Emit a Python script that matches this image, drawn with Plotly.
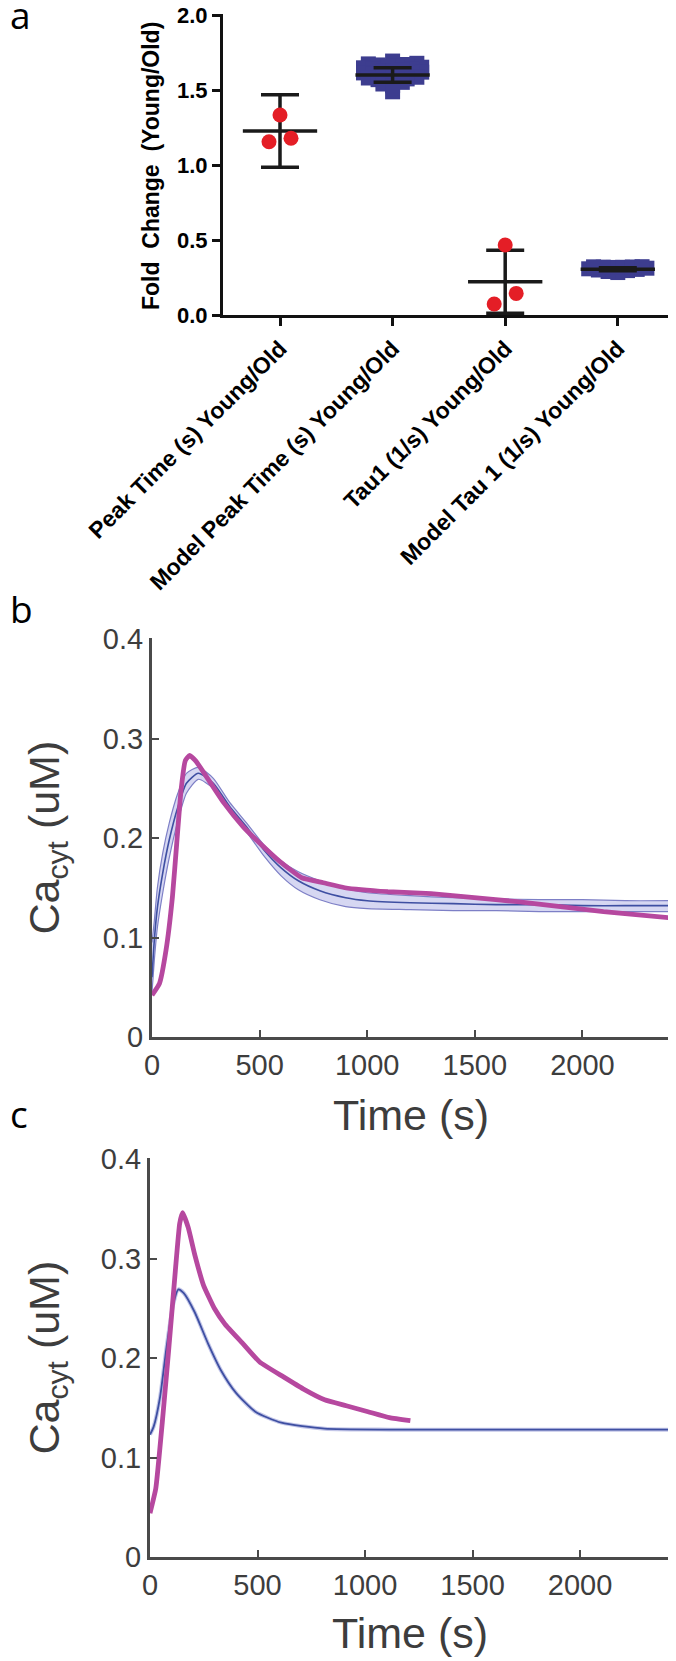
import numpy as np
import plotly.graph_objects as go

# page is 676x1661; the browser's default body margin puts the figure at (8, 8)
PAGE_W, PAGE_H, OFF = 676, 1661, 8
WF, HF = PAGE_W - OFF, PAGE_H - OFF

# ---------------- data: panel a ----------------
categories = ["Peak Time (s) Young/Old", "Model Peak Time (s) Young/Old",
              "Tau1 (1/s) Young/Old", "Model Tau 1 (1/s) Young/Old"]
peak_time_exp = [1.333, 1.155, 1.178]
peak_time_model = [1.693,
                   1.678, 1.674, 1.670, 1.667, 1.662, 1.657,
                   1.652, 1.648, 1.643, 1.639, 1.634, 1.629, 1.624,
                   1.619, 1.614, 1.610, 1.605, 1.600, 1.595, 1.591,
                   1.585, 1.580, 1.574, 1.569, 1.564, 1.558,
                   1.551, 1.540, 1.528,
                   1.488]
tau1_exp = [0.467, 0.144, 0.073]
tau1_model = [0.283, 0.290, 0.296, 0.300, 0.304, 0.308, 0.312,
              0.317, 0.318, 0.319, 0.320, 0.321, 0.322]
group_means = [1.227, 1.600, 0.222, 0.305]
group_err = [0.242, 0.049, 0.210, 0.010]
a_yticks = [0.0, 0.5, 1.0, 1.5, 2.0]

# ---------------- data: panel b ----------------
b_model_t = [0, 10, 25, 50, 80, 120, 160, 215, 285, 360, 440, 520, 600, 680,
             780, 900, 1000, 1200, 1400, 1600, 1800, 2000, 2200, 2400]
b_model_mean = [0.060, 0.095, 0.130, 0.165, 0.198, 0.231, 0.255, 0.265, 0.255, 0.232,
                0.211, 0.188, 0.170, 0.157, 0.147, 0.140, 0.137, 0.135, 0.134, 0.133,
                0.133, 0.132, 0.132, 0.132]
b_model_upper = [0.095, 0.115, 0.150, 0.185, 0.215, 0.245, 0.265, 0.271, 0.260, 0.236,
                 0.215, 0.193, 0.177, 0.166, 0.157, 0.149, 0.145, 0.142, 0.140, 0.139,
                 0.138, 0.138, 0.137, 0.137]
b_model_lower = [0.045, 0.075, 0.110, 0.145, 0.180, 0.217, 0.245, 0.259, 0.250, 0.228,
                 0.206, 0.182, 0.162, 0.148, 0.138, 0.131, 0.129, 0.128, 0.127, 0.127,
                 0.126, 0.126, 0.126, 0.126]
b_exp_t = [0, 35, 65, 95, 115, 135, 155, 175, 205, 255, 335, 425, 495, 596, 696, 796,
           896, 1096, 1297, 1497, 1697, 1898, 2098, 2400]
b_exp_v = [0.042, 0.054, 0.087, 0.141, 0.195, 0.248, 0.278, 0.283, 0.277, 0.261, 0.235,
           0.211, 0.196, 0.176, 0.160, 0.155, 0.150, 0.146, 0.144, 0.140, 0.136, 0.131,
           0.126, 0.120]

# ---------------- data: panel c ----------------
c_model_t = [0, 17, 47, 77, 108, 132, 158, 208, 269, 329, 400, 490, 611, 812, 1114,
             1500, 2000, 2414]
c_model_v = [0.123, 0.131, 0.161, 0.211, 0.254, 0.269, 0.265, 0.246, 0.215, 0.188,
             0.165, 0.146, 0.135, 0.129, 0.128, 0.128, 0.128, 0.128]
c_exp_t = [0, 27, 57, 88, 118, 138, 152, 178, 208, 249, 299, 349, 430, 510, 621, 712,
           812, 913, 1014, 1114, 1211]
c_exp_v = [0.044, 0.069, 0.135, 0.211, 0.288, 0.335, 0.346, 0.331, 0.304, 0.273, 0.250,
           0.234, 0.215, 0.196, 0.181, 0.169, 0.158, 0.152, 0.146, 0.140, 0.137]

time_ticks = [0, 500, 1000, 1500, 2000]
ca_ticks = [0, 0.1, 0.2, 0.3, 0.4]
ca_ticktext = ["0", "0.1", "0.2", "0.3", "0.4"]

# ---------------- layout geometry (page pixels) ----------------
A_L, A_R, A_T, A_B = 223, 676, 14, 315
A_CAT0, A_CATSTEP = 280, 112.6
A_PXU = 150.0  # px per unit on y
B_L, B_R, B_T, B_B = 152, 670, 638, 1037
C_L, C_R, C_T, C_B = 150, 669, 1158, 1557


def px(xp):
    return (xp - OFF) / WF


def py(yp):
    return 1 - (yp - OFF) / HF


def xd(l, r):
    return [px(l), min(1.0, px(r))]


def yd(t, b):
    return [py(b), py(t)]


def swarm(values, row_px, step_px):
    v = np.asarray(values, float)
    order = np.argsort(v, kind="stable")
    bins = np.floor((v - v.min()) * A_PXU / row_px + 1e-9).astype(int)
    offs = np.zeros(len(v))
    for b in np.unique(bins):
        idx = [i for i in order if bins[i] == b]
        n = len(idx)
        slots = sorted([(k - (n - 1) / 2) * step_px for k in range(n)], key=lambda s: (abs(s), s))
        for i, s in zip(idx, slots):
            offs[i] = s / A_CATSTEP
    return offs


RED = "#e41e26"
NAVY = "#3d3d8f"
MAG = "#b6489f"
BLUE = "#3e4fa2"
AXC = "#4a4a4a"
TXC = "#3d3d3d"

fig = go.Figure()

# panel a: model squares
for ci, vals in [(1, peak_time_model), (3, tau1_model)]:
    fig.add_trace(go.Scatter(x=ci + swarm(vals, 5, 9.7), y=vals, mode="markers",
                             marker=dict(symbol="square", size=15, color=NAVY, line=dict(width=0)),
                             xaxis="x", yaxis="y", showlegend=False, hoverinfo="skip"))

# mean lines
mx, my = [], []
for i, m in enumerate(group_means):
    mx += [i - 0.33, i + 0.33, None]
    my += [m, m, None]
fig.add_trace(go.Scatter(x=mx, y=my, mode="lines", line=dict(color="#1a1a1a", width=3.5),
                         xaxis="x", yaxis="y", showlegend=False, hoverinfo="skip"))
# error bars
fig.add_trace(go.Scatter(x=list(range(4)), y=group_means, mode="markers",
                         marker=dict(size=1, opacity=0),
                         error_y=dict(type="data", array=group_err, symmetric=True,
                                      width=19, thickness=3.5, color="#1a1a1a"),
                         xaxis="x", yaxis="y", showlegend=False, hoverinfo="skip"))
# experimental red dots
for ci, vals in [(0, peak_time_exp), (2, tau1_exp)]:
    fig.add_trace(go.Scatter(x=ci + swarm(vals, 15, 22), y=vals, mode="markers",
                             marker=dict(symbol="circle", size=15, color=RED, line=dict(width=0)),
                             xaxis="x", yaxis="y", showlegend=False, hoverinfo="skip"))

# panel b
fig.add_trace(go.Scatter(x=b_model_t, y=b_model_lower, mode="lines",
                         line=dict(color="#7d7fc6", width=1.2, shape="spline", smoothing=0.6),
                         xaxis="x2", yaxis="y2", showlegend=False, hoverinfo="skip"))
fig.add_trace(go.Scatter(x=b_model_t, y=b_model_upper, mode="lines", fill="tonexty",
                         fillcolor="rgba(200,202,238,0.75)",
                         line=dict(color="#7d7fc6", width=1.2, shape="spline", smoothing=0.6),
                         xaxis="x2", yaxis="y2", showlegend=False, hoverinfo="skip"))
fig.add_trace(go.Scatter(x=b_model_t, y=b_model_mean, mode="lines",
                         line=dict(color=BLUE, width=1.6, shape="spline", smoothing=0.6),
                         xaxis="x2", yaxis="y2", showlegend=False, hoverinfo="skip"))
fig.add_trace(go.Scatter(x=b_exp_t, y=b_exp_v, mode="lines",
                         line=dict(color=MAG, width=4.8, shape="spline", smoothing=0.4),
                         xaxis="x2", yaxis="y2", showlegend=False, hoverinfo="skip"))

# panel c
fig.add_trace(go.Scatter(x=c_model_t, y=c_model_v, mode="lines",
                         line=dict(color="#c3c6e8", width=4.0, shape="spline", smoothing=0.6),
                         xaxis="x3", yaxis="y3", showlegend=False, hoverinfo="skip"))
fig.add_trace(go.Scatter(x=c_model_t, y=c_model_v, mode="lines",
                         line=dict(color=BLUE, width=1.8, shape="spline", smoothing=0.6),
                         xaxis="x3", yaxis="y3", showlegend=False, hoverinfo="skip"))
fig.add_trace(go.Scatter(x=c_exp_t, y=c_exp_v, mode="lines",
                         line=dict(color=MAG, width=4.8, shape="spline", smoothing=0.4),
                         xaxis="x3", yaxis="y3", showlegend=False, hoverinfo="skip"))

tickfont_a = dict(family="Liberation Sans, Arial, sans-serif", size=23, color="black", weight="bold")
tickfont_ay = dict(family="Liberation Sans, Arial, sans-serif", size=22, color="black", weight="bold")
tickfont_bc = dict(family="Liberation Sans, Arial, sans-serif", size=29, color=TXC)

common_bc = dict(showgrid=False, zeroline=False, showline=True, linecolor=AXC, linewidth=3,
                 ticks="inside", ticklen=7, tickwidth=2, tickcolor=AXC, tickfont=tickfont_bc,
                 automargin=False, ticklabeloverflow="allow")

fig.update_layout(
    template="none",
    width=WF, height=HF, margin=dict(l=0, r=0, t=0, b=0, autoexpand=False),
    paper_bgcolor="white", plot_bgcolor="white", showlegend=False,
    xaxis=dict(domain=xd(A_L, A_R), anchor="y", automargin=False, ticklabeloverflow="allow",
               range=[(A_L - A_CAT0) / A_CATSTEP, (A_R - A_CAT0) / A_CATSTEP],
               tickmode="array", tickvals=list(range(4)), ticktext=categories, tickangle=-45,
               showgrid=False, zeroline=False, showline=True, linecolor="#111111", linewidth=3,
               ticks="outside", ticklen=8, tickwidth=3, tickcolor="#111111", tickfont=tickfont_a),
    yaxis=dict(domain=yd(A_T, A_B), anchor="x", range=[0, (A_B - A_T) / A_PXU], automargin=False,
               ticklabeloverflow="allow",
               tickmode="array", tickvals=a_yticks, ticktext=[f"{v:.1f}" for v in a_yticks],
               showgrid=False, zeroline=False, showline=True, linecolor="#111111", linewidth=3,
               ticks="outside", ticklen=8, tickwidth=3, tickcolor="#111111", tickfont=tickfont_ay),
    xaxis2=dict(domain=xd(B_L, B_R), anchor="y2", range=[0, (B_R - B_L) * 500 / 107.6],
                tickmode="array", tickvals=time_ticks, **common_bc),
    yaxis2=dict(domain=yd(B_T, B_B), anchor="x2", range=[0, (B_B - B_T) / 995.0],
                tickmode="array", tickvals=ca_ticks, ticktext=ca_ticktext, **common_bc),
    xaxis3=dict(domain=xd(C_L, C_R), anchor="y3", range=[0, (C_R - C_L) / 0.215],
                tickmode="array", tickvals=time_ticks, **common_bc),
    yaxis3=dict(domain=yd(C_T, C_B), anchor="x3", range=[0, (C_B - C_T) / 995.0],
                tickmode="array", tickvals=ca_ticks, ticktext=ca_ticktext, **common_bc),
)

ann = []
letter_font = dict(family="Open Sans, sans-serif", size=37, color="black")
for txt, ypx in [("a", 15), ("b", 609), ("c", 1113)]:
    ann.append(dict(text=txt, x=0, y=py(ypx), xref="paper", yref="paper",
                    xanchor="left", yanchor="middle", showarrow=False, font=letter_font))
ann.append(dict(text="<b>Fold\u00a0\u00a0Change\u00a0\u00a0(Young/Old)</b>", x=px(151), y=py(166),
                xref="paper", yref="paper", textangle=-90, showarrow=False,
                xanchor="center", yanchor="middle",
                font=dict(family="Liberation Sans, Arial, sans-serif", size=23, color="black")))
title_font = dict(family="Liberation Sans, Arial, sans-serif", size=43, color=TXC)
for ycen in [(B_T + B_B) / 2, (C_T + C_B) / 2]:
    ann.append(dict(text="Ca<sub>cyt</sub> (uM)", x=px(46), y=py(ycen), xref="paper",
                    yref="paper", textangle=-90, showarrow=False, xanchor="center",
                    yanchor="middle", font=title_font))
for ypx, (l, r) in [(1115, (B_L, B_R)), (1633, (C_L, C_R))]:
    ann.append(dict(text="Time (s)", x=px((l + r) / 2), y=py(ypx), xref="paper",
                    yref="paper", showarrow=False, xanchor="center", yanchor="middle",
                    font=title_font))
fig.update_layout(annotations=ann)

fig.write_html("out.html")
